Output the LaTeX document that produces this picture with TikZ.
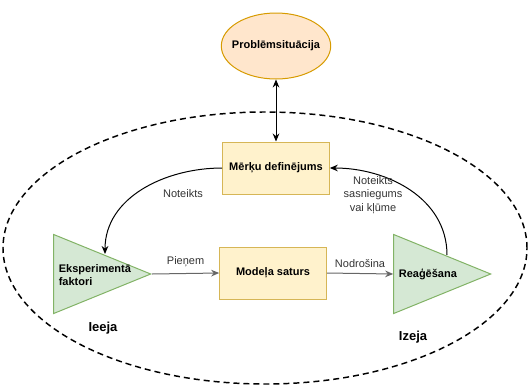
\documentclass[tikz,border=0pt]{standalone}
\usepackage{fontspec}
\setmainfont{Liberation Sans}
\usepackage{xcolor}
\definecolor{orangefill}{HTML}{FFE6CC}
\definecolor{orangeline}{HTML}{D79B00}
\definecolor{yellowfill}{HTML}{FFF2CC}
\definecolor{yellowline}{HTML}{D6B656}
\definecolor{greenfill}{HTML}{D5E8D4}
\definecolor{greenline}{HTML}{82B366}
\definecolor{edgegray}{HTML}{666666}
\definecolor{labelgray}{HTML}{333333}
\usetikzlibrary{shapes.geometric}
\usetikzlibrary{positioning}
\usetikzlibrary{arrows.meta}

\begin{document}
\begin{tikzpicture}[x=0.75pt,y=-0.75pt,
	font=\fontsize{8.25}{10}\selectfont,
	line width=0.75pt,
	>={Stealth[length=6pt,width=5pt]}]

	\tikzset{box/.style={rectangle,draw=yellowline,fill=yellowfill,
		minimum width=80pt,minimum height=39pt,
		font=\fontsize{8.25}{10}\selectfont\bfseries}}
	\tikzset{tri/.style={isosceles triangle,isosceles triangle stretches,
		draw=greenline,fill=greenfill,inner sep=0pt,
		minimum width=59.25pt,minimum height=72.75pt}}
	\tikzset{edgelabel/.style={text=labelgray}}
	\tikzset{bigtext/.style={font=\fontsize{9.75}{11}\selectfont\bfseries}}

	\useasboundingbox (0,0) rectangle (529,387);

	% Sistema (raustita elipse)
	\node[ellipse,draw,dash pattern=on 4.5pt off 3pt,line width=1.1pt,
		minimum width=393pt,minimum height=204pt] (sys) at (265,248) {};

	% Problemsituacija
	\node[ellipse,draw=orangeline,fill=orangefill,inner xsep=-4pt,inner ysep=0pt,
		minimum width=80pt,minimum height=49.5pt,
		font=\fontsize{8.25}{10}\selectfont\bfseries] (prob) at (276,46) {Problēmsituācija};

	% Taisnsturi
	\node[box] (mer) at (276,168) {Mērķu definējums};
	\node[box] (mod) at (273,273) {Modeļa saturs};

	% Trijsturi
	\node[tri,anchor=apex] (ein) at (152,274) {};
	\node[anchor=west,inner sep=1pt,align=left,font=\fontsize{8.25}{10}\selectfont\bfseries] (eintext) at (57,275) {Eksperimentā\\faktori};
	\node[tri,anchor=apex] (rea) at (492,274) {};
	\node[anchor=west,inner sep=1pt,font=\fontsize{8.25}{10}\selectfont\bfseries] (reatext) at (397,274) {Reaģēšana};

	\node[bigtext] (ieeja) at (103,328) {Ieeja};
	\node[bigtext] (izeja) at (413,337) {Izeja};

	% Bultas
	\draw[<->] (prob.south) -- (mer.north);
	\draw[->,edgegray] (ein.apex) -- node[above=1pt,edgelabel] {Pieņem} (mod.west);
	\draw[->,edgegray] (mod.east) -- node[above=1pt,edgelabel] {Nodrošina} (rea.lower side);

	\coordinate (einTop) at (105,254);
	\coordinate (reaTop) at (447,255);
	\draw[->] (mer.west) to[out=180,in=90] (einTop);
	\draw[->] (reaTop) to[out=90,in=0] (mer.east);
	\node[edgelabel] (noteikts) at (183,194) {Noteikts};
	\node[edgelabel,align=center] (sasn) at (373,195) {Noteikts\\sasniegums\\vai kļūme};

\end{tikzpicture}
\end{document}
